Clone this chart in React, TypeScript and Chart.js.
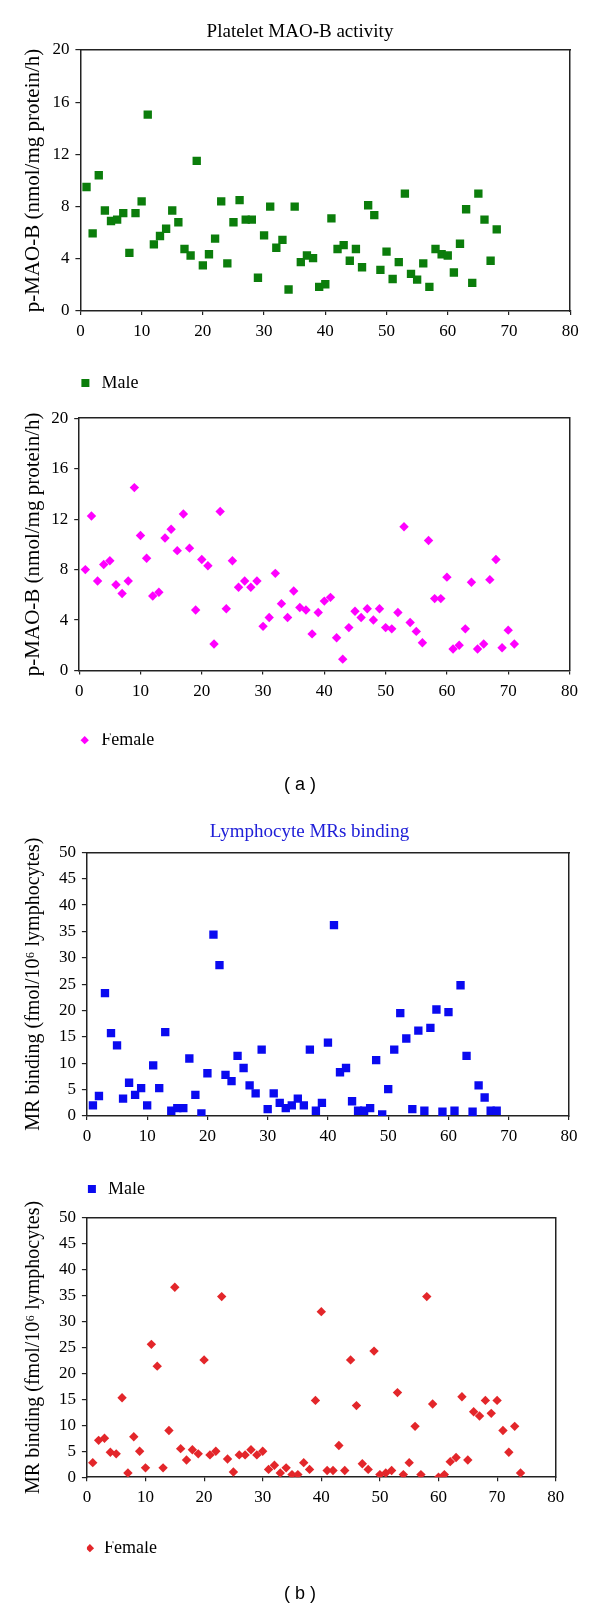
import React, { useEffect, useRef } from "react";
import { Chart, registerables } from "chart.js";

Chart.register(...registerables);

const SERIF = "'Liberation Serif', 'Times New Roman', serif";
const SANS = "'Liberation Sans', Arial, sans-serif";

// axis ranges / ticks
const xMin = 0;
const xMax = 80;
const xStep = 10;
const maoYMax = 20;
const maoYStep = 4;
const mrYMax = 50;
const mrYStep = 5;

// titles / labels
const maoTitle = "Platelet MAO-B activity";
const mrTitle = "Lymphocyte MRs binding";
const maoYLabel = "p-MAO-B (nmol/mg protein/h)";
const mrYLabel = "MR binding (fmol/10\u2076 lymphocytes)";

// series values (subject 1..N)
const maleMaoB = [9.5, 5.95, 10.4, 7.7, 6.9, 7.0, 7.5, 4.45, 7.5, 8.4, 15.05, 5.1, 5.75, 6.3, 7.7, 6.8, 4.75, 4.25, 11.5, 3.5, 4.35, 5.55, 8.4, 3.65, 6.8, 8.5, 7.0, 7.0, 2.55, 5.8, 8.0, 4.85, 5.45, 1.65, 8.0, 3.75, 4.25, 4.05, 1.85, 2.05, 7.1, 4.75, 5.05, 3.85, 4.75, 3.35, 8.1, 7.35, 3.15, 4.55, 2.45, 3.75, 9.0, 2.85, 2.4, 3.65, 1.85, 4.75, 4.35, 4.25, 2.95, 5.15, 7.8, 2.15, 9.0, 7.0, 3.85, 6.25];

const femaleMaoB = [8.0, 12.25, 7.1, 8.4, 8.7, 6.8, 6.1, 7.1, 14.5, 10.7, 8.9, 5.9, 6.2, 10.5, 11.2, 9.5, 12.4, 9.7, 4.8, 8.8, 8.3, 2.1, 12.6, 4.9, 8.7, 6.6, 7.1, 6.6, 7.1, 3.5, 4.2, 7.7, 5.3, 4.2, 6.3, 5.0, 4.8, 2.9, 4.6, 5.5, 5.8, 2.6, 0.9, 3.4, 4.7, 4.2, 4.9, 4.0, 4.9, 3.4, 3.3, 4.6, 11.4, 3.8, 3.1, 2.2, 10.3, 5.7, 5.7, 7.4, 1.7, 2.0, 3.3, 7.0, 1.7, 2.1, 7.2, 8.8, 1.8, 3.2, 2.1];

const maleMR = [2.0, 3.8, 23.3, 15.7, 13.4, 3.3, 6.3, 4.0, 5.3, 2.0, 9.6, 5.3, 15.9, 1.0, 1.5, 1.5, 10.9, 4.0, 0.5, 8.1, 34.4, 28.6, 7.8, 6.6, 11.4, 9.1, 5.8, 4.3, 12.6, 1.3, 4.3, 2.5, 1.5, 2.0, 3.3, 2.0, 12.6, 1.0, 2.5, 13.9, 36.2, 8.3, 9.1, 2.8, 1.0, 1.0, 1.5, 10.6, 0.3, 5.1, 12.6, 19.5, 14.7, 1.3, 16.2, 1.0, 16.7, 20.2, 0.8, 19.7, 1.0, 24.8, 11.4, 0.8, 5.8, 3.5, 1.0, 1.0];

const femaleMR = [2.8, 7.1, 7.5, 4.8, 4.5, 15.3, 0.8, 7.8, 5.0, 1.8, 25.6, 21.4, 1.8, 9.0, 36.6, 5.5, 3.3, 5.3, 4.5, 22.6, 4.3, 5.0, 34.8, 3.5, 1.0, 4.3, 4.3, 5.3, 4.3, 5.0, 1.5, 2.3, 0.8, 1.8, 0.5, 0.5, 2.8, 1.5, 14.8, 31.9, 1.3, 1.3, 6.1, 1.3, 22.6, 13.8, 2.6, 1.5, 24.3, 0.5, 0.8, 1.3, 16.3, 0.5, 2.8, 9.8, 0.5, 34.8, 14.1, 0.0, 0.5, 3.0, 3.8, 15.5, 3.3, 12.6, 11.8, 14.8, 12.3, 14.8, 9.0, 4.8, 9.8, 0.8];

type Panel = {
  top: number;
  height: number;
  padL: number;
  padR: number;
  padTop: number;
  padBottom: number;
  yAxisW: number;
  rightW: number;
  xAxisH: number;
  yMax: number;
  yStep: number;
  yTitle: string;
  yTitleSize: number;
  yTitlePadTop: number;
  values: number[];
  label: string;
  color: string;
  pointStyle: string;
  radius: number;
  legendBoxW: number;
  legendBoxH: number;
  title?: { text: string; color: string; family: string; size: number; pt: number; pb: number; position: "top" | "bottom" };
};

const panels: Panel[] = [
  {
    top: 0, height: 402, padL: 0, padR: 0, padTop: 0, padBottom: 0,
    yAxisW: 80.4, rightW: 29.8, xAxisH: 65,
    yMax: maoYMax, yStep: maoYStep, yTitle: maoYLabel, yTitleSize: 21, yTitlePadTop: 21.1,
    values: maleMaoB, label: "Male", color: "#0b7d0b", pointStyle: "rect", radius: 5.9,
    legendBoxW: 14, legendBoxH: 8,
    title: { text: maoTitle, color: "#000", family: SERIF, size: 19, pt: 20.3, pb: 6.9, position: "top" },
  },
  {
    top: 402, height: 398, padL: 0, padR: 0, padTop: 12.3, padBottom: 0,
    yAxisW: 79.2, rightW: 30.5, xAxisH: 62.7,
    yMax: maoYMax, yStep: maoYStep, yTitle: maoYLabel, yTitleSize: 21, yTitlePadTop: 21.1,
    values: femaleMaoB, label: "Female", color: "#ff00ff", pointStyle: "rectRot", radius: 4.7,
    legendBoxW: 15, legendBoxH: 5.9,
    title: { text: "( a )", color: "#000", family: SANS, size: 18, pt: 15.2, pb: 4, position: "bottom" },
  },
  {
    top: 800, height: 408, padL: 18.8, padR: 0, padTop: 0, padBottom: 0,
    yAxisW: 68.1, rightW: 31, xAxisH: 66,
    yMax: mrYMax, yStep: mrYStep, yTitle: mrYLabel, yTitleSize: 20, yTitlePadTop: 2.9,
    values: maleMR, label: "Male", color: "#0a0af0", pointStyle: "rect", radius: 5.9,
    legendBoxW: 14, legendBoxH: 8,
    title: { text: mrTitle, color: "#2020d8", family: SERIF, size: 19, pt: 20.6, pb: 8.9, position: "top" },
  },
  {
    top: 1188, height: 421, padL: 0, padR: 0, padTop: 29.7, padBottom: 0,
    yAxisW: 86.9, rightW: 44.3, xAxisH: 64,
    yMax: mrYMax, yStep: mrYStep, yTitle: mrYLabel, yTitleSize: 20, yTitlePadTop: 21.7,
    values: femaleMR, label: "Female", color: "#e3262a", pointStyle: "rectRot", radius: 4.7,
    legendBoxW: 10, legendBoxH: 5.9,
    title: { text: "( b )", color: "#000", family: SANS, size: 18, pt: 16.2, pb: 4, position: "bottom" },
  },
];

const AXIS_COLOR = "#222";

function ChartPanel({ p }: { p: Panel }) {
  const ref = useRef<HTMLCanvasElement>(null);
  useEffect(() => {
    const canvas = ref.current;
    if (!canvas) return;
    const points = p.values.map((v, i) => ({ x: i + 1, y: v }));
    const chart = new Chart(canvas, {
      type: "scatter",
      data: {
        datasets: [
          {
            label: p.label,
            data: points,
            pointStyle: p.pointStyle as any,
            pointRadius: p.radius,
            pointHoverRadius: p.radius,
            backgroundColor: p.color,
            borderColor: p.color,
            pointBorderWidth: 0,
            borderWidth: 0,
          },
        ],
      },
      options: {
        responsive: false,
        animation: false,
        devicePixelRatio: 1,
        layout: { padding: { left: p.padL, right: p.padR, top: p.padTop, bottom: p.padBottom } },
        scales: {
          x: {
            type: "linear",
            position: "bottom",
            min: xMin,
            max: xMax,
            ticks: { stepSize: xStep, color: "#000", font: { family: SERIF, size: 17 }, padding: 6.5, maxRotation: 0 },
            grid: { display: true, drawOnChartArea: false, drawTicks: true, tickLength: 4, color: AXIS_COLOR, lineWidth: 1.2 },
            border: { display: true, color: AXIS_COLOR, width: 1.5 },
            afterFit: (s: any) => { s.height = p.xAxisH; },
          },
          y: {
            type: "linear",
            position: "left",
            min: 0,
            max: p.yMax,
            ticks: { stepSize: p.yStep, color: "#000", font: { family: SERIF, size: 17 }, padding: 6 },
            grid: { display: true, drawOnChartArea: false, drawTicks: true, tickLength: 5, color: AXIS_COLOR, lineWidth: 1.2 },
            border: { display: true, color: AXIS_COLOR, width: 1.5 },
            title: {
              display: true,
              text: p.yTitle,
              color: "#000",
              font: { family: SERIF, size: p.yTitleSize },
              padding: { top: p.yTitlePadTop, bottom: 0 },
            },
            afterFit: (s: any) => { s.width = p.yAxisW; },
          },
          x2: {
            type: "linear",
            position: "top",
            min: 0,
            max: 1,
            ticks: { display: false },
            grid: { display: false, drawTicks: false, drawOnChartArea: false },
            border: { display: true, color: AXIS_COLOR, width: 1.5 },
            afterFit: (s: any) => { s.height = 0; },
          },
          y2: {
            type: "linear",
            position: "right",
            min: 0,
            max: 1,
            ticks: { display: false },
            grid: { display: false, drawTicks: false, drawOnChartArea: false },
            border: { display: true, color: AXIS_COLOR, width: 1.5 },
            afterFit: (s: any) => { s.width = p.rightW; },
          },
        },
        plugins: {
          legend: {
            display: true,
            position: "bottom",
            align: "start",
            fullSize: false,
            labels: {
              usePointStyle: true,
              boxWidth: p.legendBoxW,
              boxHeight: p.legendBoxH,
              padding: -2,
              color: "#000",
              font: { family: SERIF, size: 18 },
            },
          },
          title: p.title
            ? {
                display: true,
                position: p.title.position,
                text: p.title.text,
                color: p.title.color,
                font: { family: p.title.family, size: p.title.size, weight: "normal" },
                padding: { top: p.title.pt, bottom: p.title.pb },
              }
            : { display: false },
          tooltip: { enabled: false },
        },
      } as any,
    });
    return () => chart.destroy();
  }, [p]);
  return (
    <canvas
      ref={ref}
      width={600}
      height={p.height}
      style={{ position: "absolute", left: 0, top: p.top, width: 600, height: p.height }}
    />
  );
}

export default function App() {
  return (
    <div style={{ position: "absolute", left: 0, top: 0, width: 600, height: 1609, background: "#fff" }}>
      {panels.map((p, i) => (
        <ChartPanel key={i} p={p} />
      ))}
    </div>
  );
}
